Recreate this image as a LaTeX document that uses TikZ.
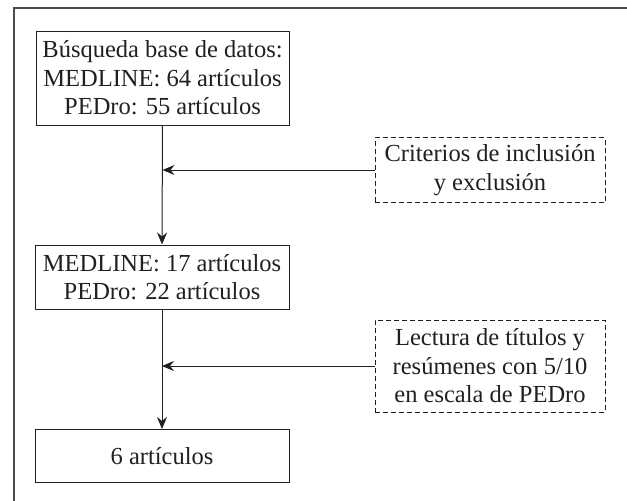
\documentclass[tikz,border=0pt]{standalone}
\usepackage{fontspec}
\setmainfont{Liberation Serif}
\usetikzlibrary{arrows.meta}
\definecolor{ink}{HTML}{231F20}
\tikzset{
  solidbox/.style={draw=ink, line width=1pt, text=ink, align=center, inner sep=0pt,
    font=\fontsize{24.5}{28.5}\selectfont},
  dashbox/.style={solidbox, dash pattern=on 5pt off 3pt},
  conn/.style={draw=ink, line width=1pt, -{Stealth[length=12pt,width=10pt,inset=4pt]}},
}
\begin{document}
\begin{tikzpicture}[x=1pt,y=-1pt]
\useasboundingbox (0,0) rectangle (627,501);
\draw[ink!80, line width=1.4pt] (14,501) -- (14,8) -- (627,8);
\node[solidbox, minimum width=253pt, minimum height=94pt] (b1) at (162.5,78)
  {Búsqueda base de datos:\\MEDLINE: 64 artículos\\PEDro: 55 artículos};
\node[solidbox, minimum width=254pt, minimum height=64pt] (b2) at (162,277)
  {MEDLINE: 17 artículos\\PEDro: 22 artículos};
\node[solidbox, minimum width=254pt, minimum height=53pt] (b3) at (162,456)
  {6 artículos};
\node[dashbox, minimum width=230pt, minimum height=65pt] (d1) at (490,170)
  {Criterios de inclusión\\y exclusión};
\node[dashbox, minimum width=230pt, minimum height=92pt] (d2) at (490,366)
  {Lectura de títulos y\\resúmenes con 5/10\\en escala de PEDro};
\coordinate (m1) at (b1.south |- d1.west);
\coordinate (m2) at (b2.south |- d2.west);
\draw[conn] (b1.south) -- (b2.north);
\draw[conn] (b2.south) -- (b3.north);
\draw[conn] (d1.west) -- (m1);
\draw[conn] (d2.west) -- (m2);
\end{tikzpicture}
\end{document}
